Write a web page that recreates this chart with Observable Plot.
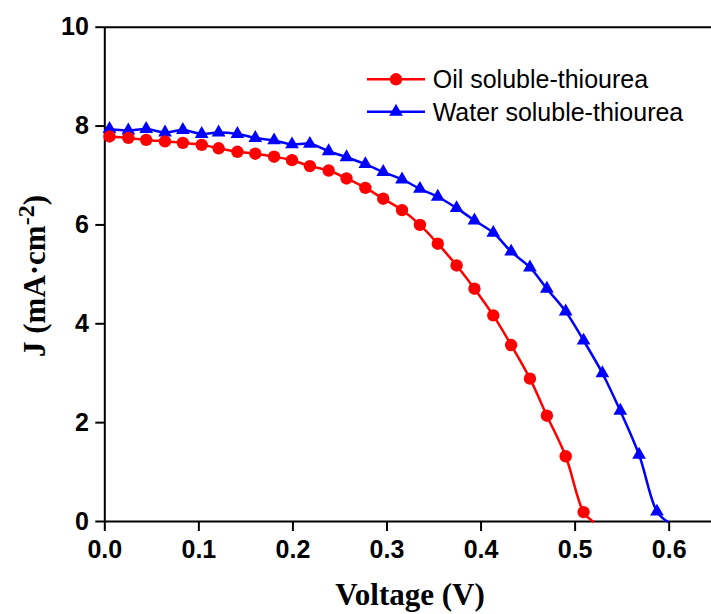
<!DOCTYPE html>
<html>
<head>
<meta charset="utf-8">
<script src="https://cdn.jsdelivr.net/npm/d3@7"></script>
<script src="https://cdn.jsdelivr.net/npm/@observablehq/plot@0.6"></script>
<style>
  html, body { margin: 0; padding: 0; background: #fff; }
  #chart { width: 711px; height: 614px; position: relative; }
</style>
</head>
<body>
<div id="chart"></div>
<script>
// J–V curves of the two cells (voltage in V, current density in mA·cm⁻²)
const voltage = [0.005, 0.025, 0.044, 0.064, 0.083, 0.103, 0.121, 0.141, 0.160, 0.180,
                 0.199, 0.218, 0.238, 0.257, 0.277, 0.296, 0.316, 0.335, 0.354, 0.374,
                 0.393, 0.413, 0.432, 0.452, 0.470, 0.490, 0.509, 0.529, 0.548, 0.568, 0.587];
const oilJ = [7.79, 7.76, 7.72, 7.69, 7.66, 7.62, 7.55, 7.48, 7.44, 7.38,
              7.31, 7.19, 7.10, 6.94, 6.75, 6.53, 6.30, 6.00, 5.62, 5.18,
              4.71, 4.17, 3.57, 2.89, 2.14, 1.32, 0.19];
const waterJ = [7.94, 7.91, 7.94, 7.87, 7.92, 7.84, 7.87, 7.84, 7.76, 7.71,
                7.63, 7.64, 7.49, 7.37, 7.23, 7.07, 6.92, 6.73, 6.57, 6.34,
                6.09, 5.84, 5.46, 5.14, 4.71, 4.25, 3.66, 3.00, 2.24, 1.35, 0.20];
// open-circuit voltages where each curve meets J = 0
const vocOil = 0.519;
const vocWater = 0.598;

const seriesNames = ["Oil soluble-thiourea", "Water soluble-thiourea"];
const seriesColors = ["#ff0000", "#0000ff"];
const xTicks = [0, 0.1, 0.2, 0.3, 0.4, 0.5, 0.6];
const yTicks = [0, 2, 4, 6, 8, 10];

const oilPts = oilJ.map((j, i) => ({v: voltage[i], j}));
const waterPts = waterJ.map((j, i) => ({v: voltage[i], j}));
const oilLine = [...oilPts, {v: vocOil, j: 0}];
const waterLine = [...waterPts, {v: vocWater, j: 0}];

const sans = "'Liberation Sans', Arial, Helvetica, sans-serif";
const serif = "'Liberation Serif', 'Times New Roman', Times, serif";
const triR = 5.1;

const chart = Plot.plot({
  width: 711,
  height: 614,
  marginTop: 26.7,
  marginBottom: 93,
  marginLeft: 104.3,
  marginRight: 0,
  x: {domain: [0, 0.645]},
  y: {domain: [0, 10]},
  style: {fontFamily: sans, fontSize: "25px", fontWeight: "bold", color: "#000", background: "#fff", overflow: "visible"},
  marks: [
    Plot.ruleY([0, 10], {stroke: "#000", strokeWidth: 2}),
    Plot.ruleX([0], {stroke: "#000", strokeWidth: 2}),
    Plot.axisX({ticks: xTicks, tickFormat: d3.format(".1f"), tickSize: 10, tickPadding: 9, label: null, fontSize: 25, fontWeight: "bold"}),
    Plot.axisY({ticks: yTicks, tickSize: 9, tickPadding: 7, label: null, fontSize: 25, fontWeight: "bold"}),
    Plot.line(waterLine, {x: "v", y: "j", stroke: seriesColors[1], strokeWidth: 2.5, curve: "catmull-rom"}),
    Plot.dot(waterPts, {x: "v", y: "j", symbol: "triangle", r: triR, fill: seriesColors[1], stroke: "none"}),
    Plot.line(oilLine, {x: "v", y: "j", stroke: seriesColors[0], strokeWidth: 2.5, curve: "catmull-rom"}),
    Plot.dot(oilPts, {x: "v", y: "j", symbol: "circle", r: 6.2, fill: seriesColors[0], stroke: "none"})
  ]
});

document.getElementById("chart").appendChild(chart);
const svg = d3.select(chart);
svg.selectAll('g[aria-label$="tick"]').attr("stroke-width", 2).attr("stroke", "#000");

// axis titles
svg.append("text")
  .attr("x", 410).attr("y", 605)
  .attr("text-anchor", "middle")
  .style("font-family", serif).style("font-weight", "bold").style("font-size", "31px")
  .text("Voltage (V)");

const yTitle = svg.append("text")
  .attr("transform", "translate(45,276) rotate(-90)")
  .attr("text-anchor", "middle")
  .style("font-family", serif).style("font-weight", "bold").style("font-size", "31px");
yTitle.append("tspan").text("J (mA·cm");
yTitle.append("tspan").attr("dy", "-0.45em").style("font-size", "24px").text("-2");
yTitle.append("tspan").attr("dy", "0.34em").text(")");

// legend
const legend = svg.append("g").attr("text-anchor", "start");
seriesNames.forEach((name, i) => {
  const y = 79.3 + i * 32.4;
  const row = legend.append("g");
  row.append("line").attr("x1", 367).attr("x2", 425).attr("y1", y).attr("y2", y)
    .attr("stroke", seriesColors[i]).attr("stroke-width", 2.5);
  if (i === 0) {
    row.append("circle").attr("cx", 396).attr("cy", y).attr("r", 6.2).attr("fill", seriesColors[i]);
  } else {
    row.append("path").attr("transform", `translate(396,${y})`)
      .attr("d", d3.symbol(d3.symbolTriangle, Math.PI * triR * triR)()).attr("fill", seriesColors[i]);
  }
  row.append("text").attr("x", 432.7).attr("y", y).attr("dy", "0.36em")
    .attr("text-anchor", "start")
    .style("font-family", sans).style("font-weight", "normal").style("font-size", "25px")
    .text(name);
});
</script>
</body>
</html>
